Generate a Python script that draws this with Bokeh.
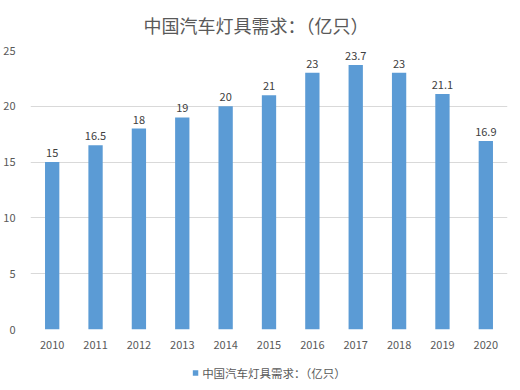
from bokeh.plotting import figure
from bokeh.layouts import column
from bokeh.models import ColumnDataSource, Range1d, FixedTicker, Legend, LegendItem, LabelSet
from bokeh.core.properties import value
from bokeh.embed import file_html
from bokeh.resources import INLINE

years = ["2010", "2011", "2012", "2013", "2014", "2015", "2016", "2017", "2018", "2019", "2020"]
demand = [15, 16.5, 18, 19, 20, 21, 23, 23.7, 23, 21.1, 16.9]
labels = ["15", "16.5", "18", "19", "20", "21", "23", "23.7", "23", "21.1", "16.9"]
y_ticks = [0, 5, 10, 15, 20, 25]
title_text = "中国汽车灯具需求：（亿只）"
series_name = "中国汽车灯具需求：（亿只）"

FONT = "Noto Sans CJK SC"
BAR = "#5b9bd5"
TXT = "#595959"

src = ColumnDataSource(dict(year=years, v=demand, lab=labels))

p = figure(x_range=years, y_range=Range1d(0, 25), width=520, height=355,
           output_backend="svg", toolbar_location=None,
           min_border_left=30, min_border_right=13, min_border_top=49, min_border_bottom=26)
p.outline_line_color = None
p.background_fill_color = "white"
p.border_fill_color = "white"

p.title.text = title_text
p.title.align = "left"
p.title.vertical_align = "top"
p.title.offset = 107
p.title.padding = 6
p.title.text_font = FONT
p.title.text_font_size = "18px"
p.title.text_font_style = "normal"
p.title.text_color = TXT

r = p.vbar(x="year", top="v", width=0.33, source=src, fill_color=BAR, line_color=None)

p.add_layout(LabelSet(x="year", y="v", text="lab", source=src, text_align="center",
                      text_baseline="bottom", y_offset=5, text_font_size=value("11px"),
                      text_color=value("#404040"), text_font=value(FONT)))

p.yaxis.ticker = FixedTicker(ticks=y_ticks)
for ax in (p.xaxis[0], p.yaxis[0]):
    ax.axis_line_color = None
    ax.major_tick_line_color = None
    ax.minor_tick_line_color = None
    ax.major_label_text_font_size = "11px"
    ax.major_label_text_color = TXT
    ax.major_label_text_font = FONT
p.yaxis.major_label_standoff = 9
p.xaxis.major_label_standoff = 5
p.xgrid.grid_line_color = None
p.ygrid.grid_line_color = "#d9d9d9"

# legend strip below the chart (refers to a copy of the bar series kept out of view)
lg = figure(x_range=p.x_range, y_range=Range1d(100, 101), width=520, height=35,
            output_backend="svg", toolbar_location=None,
            min_border_left=0, min_border_right=0, min_border_top=0, min_border_bottom=0)
lg.axis.visible = False
lg.grid.visible = False
lg.outline_line_color = None
lg.border_fill_color = "white"
r2 = lg.vbar(x="year", top="v", width=0.33, source=src, fill_color=BAR, line_color=None)
legend = Legend(items=[LegendItem(label=series_name, renderers=[r2])], orientation="horizontal",
                location="center", label_text_font=FONT, label_text_font_size="11.5px",
                label_text_color=TXT, glyph_width=7, glyph_height=7, border_line_color=None,
                background_fill_alpha=0, padding=2, margin=0, label_standoff=4)
lg.add_layout(legend, "center")

layout = column(p, lg, spacing=0)
open("out.html", "w").write(file_html(layout, INLINE))
